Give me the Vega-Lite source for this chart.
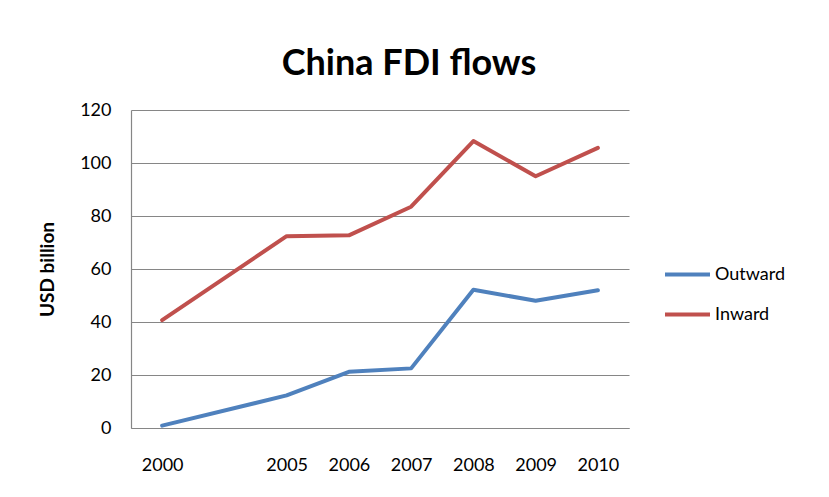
{
  "$schema": "https://vega.github.io/schema/vega-lite/v6.json",
  "autosize": "none",
  "width": 498,
  "height": 318,
  "padding": {"left": 131, "top": 110, "right": 200, "bottom": 69},
  "background": "white",
  "title": {
    "text": "China FDI flows",
    "font": "Lato",
    "fontSize": 36,
    "fontWeight": "bold",
    "color": "#000000",
    "anchor": "middle",
    "dx": 29,
    "offset": 18
  },
  "data": {
    "values": [
      {"year": "2000", "flow": "Outward", "value": 0.9},
      {"year": "2005", "flow": "Outward", "value": 12.3},
      {"year": "2006", "flow": "Outward", "value": 21.2},
      {"year": "2007", "flow": "Outward", "value": 22.5},
      {"year": "2008", "flow": "Outward", "value": 52.2},
      {"year": "2009", "flow": "Outward", "value": 48.0},
      {"year": "2010", "flow": "Outward", "value": 52.0},
      {"year": "2000", "flow": "Inward", "value": 40.7},
      {"year": "2005", "flow": "Inward", "value": 72.4},
      {"year": "2006", "flow": "Inward", "value": 72.7},
      {"year": "2007", "flow": "Inward", "value": 83.5},
      {"year": "2008", "flow": "Inward", "value": 108.3},
      {"year": "2009", "flow": "Inward", "value": 95.0},
      {"year": "2010", "flow": "Inward", "value": 105.7}
    ]
  },
  "mark": {"type": "line", "strokeWidth": 4, "strokeCap": "round", "strokeJoin": "round"},
  "encoding": {
    "x": {
      "field": "year",
      "type": "ordinal",
      "scale": {"type": "point", "padding": 0.5, "domain": ["2000", "blank", "2005", "2006", "2007", "2008", "2009", "2010"]},
      "axis": {
        "title": null,
        "labelAngle": 0,
        "labelExpr": "datum.label == 'blank' ? '' : datum.label",
        "labelFont": "Lato",
        "labelFontSize": 18,
        "labelColor": "#000000",
        "labelPadding": 28,
        "ticks": false,
        "domainColor": "#868686",
        "domainWidth": 1.2,
        "grid": false
      }
    },
    "y": {
      "field": "value",
      "type": "quantitative",
      "scale": {"domain": [0, 120], "nice": false},
      "axis": {
        "title": "USD billion",
        "titleFont": "Lato",
        "titleFontSize": 19,
        "titleFontWeight": "bold",
        "titleColor": "#000000",
        "titlePadding": 22,
        "values": [0, 20, 40, 60, 80, 100, 120],
        "labelFont": "Lato",
        "labelFontSize": 18,
        "labelColor": "#000000",
        "labelPadding": 20,
        "ticks": false,
        "domainColor": "#868686",
        "domainWidth": 1.2,
        "grid": true,
        "gridColor": "#868686",
        "gridWidth": 1.2
      }
    },
    "color": {
      "field": "flow",
      "type": "nominal",
      "scale": {"domain": ["Outward", "Inward"], "range": ["#4F81BD", "#C0504D"]},
      "legend": {
        "title": null,
        "orient": "none",
        "legendX": 532,
        "legendY": 140,
        "symbolType": "stroke",
        "symbolSize": 2025,
        "symbolStrokeWidth": 4,
        "labelFont": "Lato",
        "labelFontSize": 18,
        "labelColor": "#000000",
        "labelOffset": 3,
        "rowPadding": 6
      }
    }
  },
  "config": {"view": {"stroke": null}}
}
